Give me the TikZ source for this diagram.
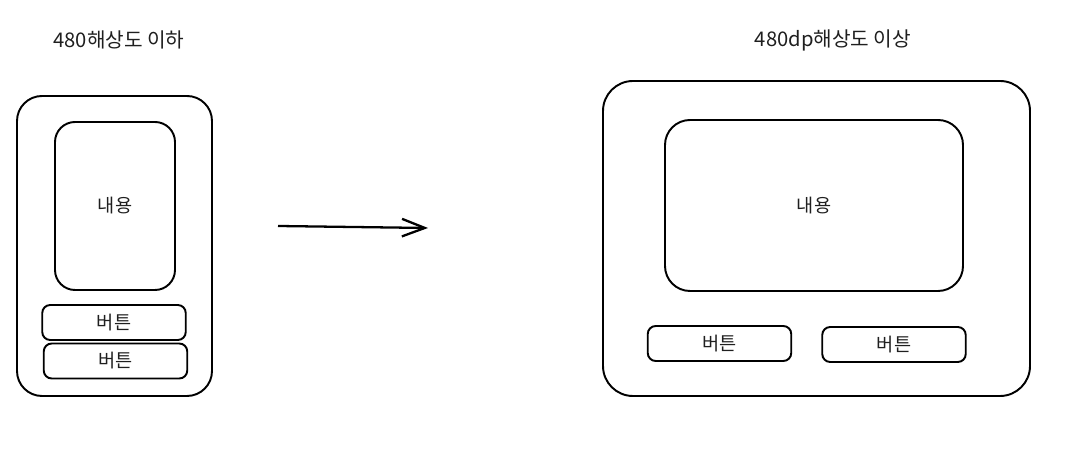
\documentclass[tikz,border=0pt]{standalone}
\usepackage{fontspec}
\setmainfont{Noto Sans CJK KR}
\usetikzlibrary{arrows.meta}

\tikzset{
  frame/.style={draw, line width=1.1pt, rounded corners=#1},
  box/.style={frame=0.16cm, minimum width=2.87cm, minimum height=0.7cm},
  title/.style={font=\fontsize{11.5}{14}\selectfont},
}

\begin{document}
\begin{tikzpicture}[>={Straight Barb[length=13pt,width=10pt]}, font=\fontsize{10.6}{13}\selectfont, text=black!88]
  \useasboundingbox (0,0) rectangle (21.68,9.04);
  % small screen
  \node[title] (T1) at (2.38,8.24) {480해상도 이하};
  \node[frame=0.5cm, minimum width=3.9cm, minimum height=6.0cm] (P) at (2.29,4.12) {};
  \node[frame=0.4cm, minimum width=2.4cm, minimum height=3.36cm] (C1) at (2.30,4.92) {내용};
  \node[box] (B1) at (2.28,2.59) {버튼};
  \node[box] (B2) at (2.31,1.82) {버튼};
  % arrow
  \coordinate (A) at (5.56,4.52);
  \coordinate (Z) at (8.56,4.48);
  \draw[->, line width=1.3pt] (A) -- (Z);
  % large screen
  \node[title] (T2) at (16.66,8.24) {480dp해상도 이상};
  \node[frame=0.6cm, minimum width=8.54cm, minimum height=6.3cm] (Q) at (16.33,4.27) {};
  \node[frame=0.5cm, minimum width=5.96cm, minimum height=3.42cm] (C2) at (16.28,4.93) {내용};
  \node[box] (B3) at (14.39,2.17) {버튼};
  \node[box] (B4) at (17.88,2.15) {버튼};
\end{tikzpicture}
\end{document}
